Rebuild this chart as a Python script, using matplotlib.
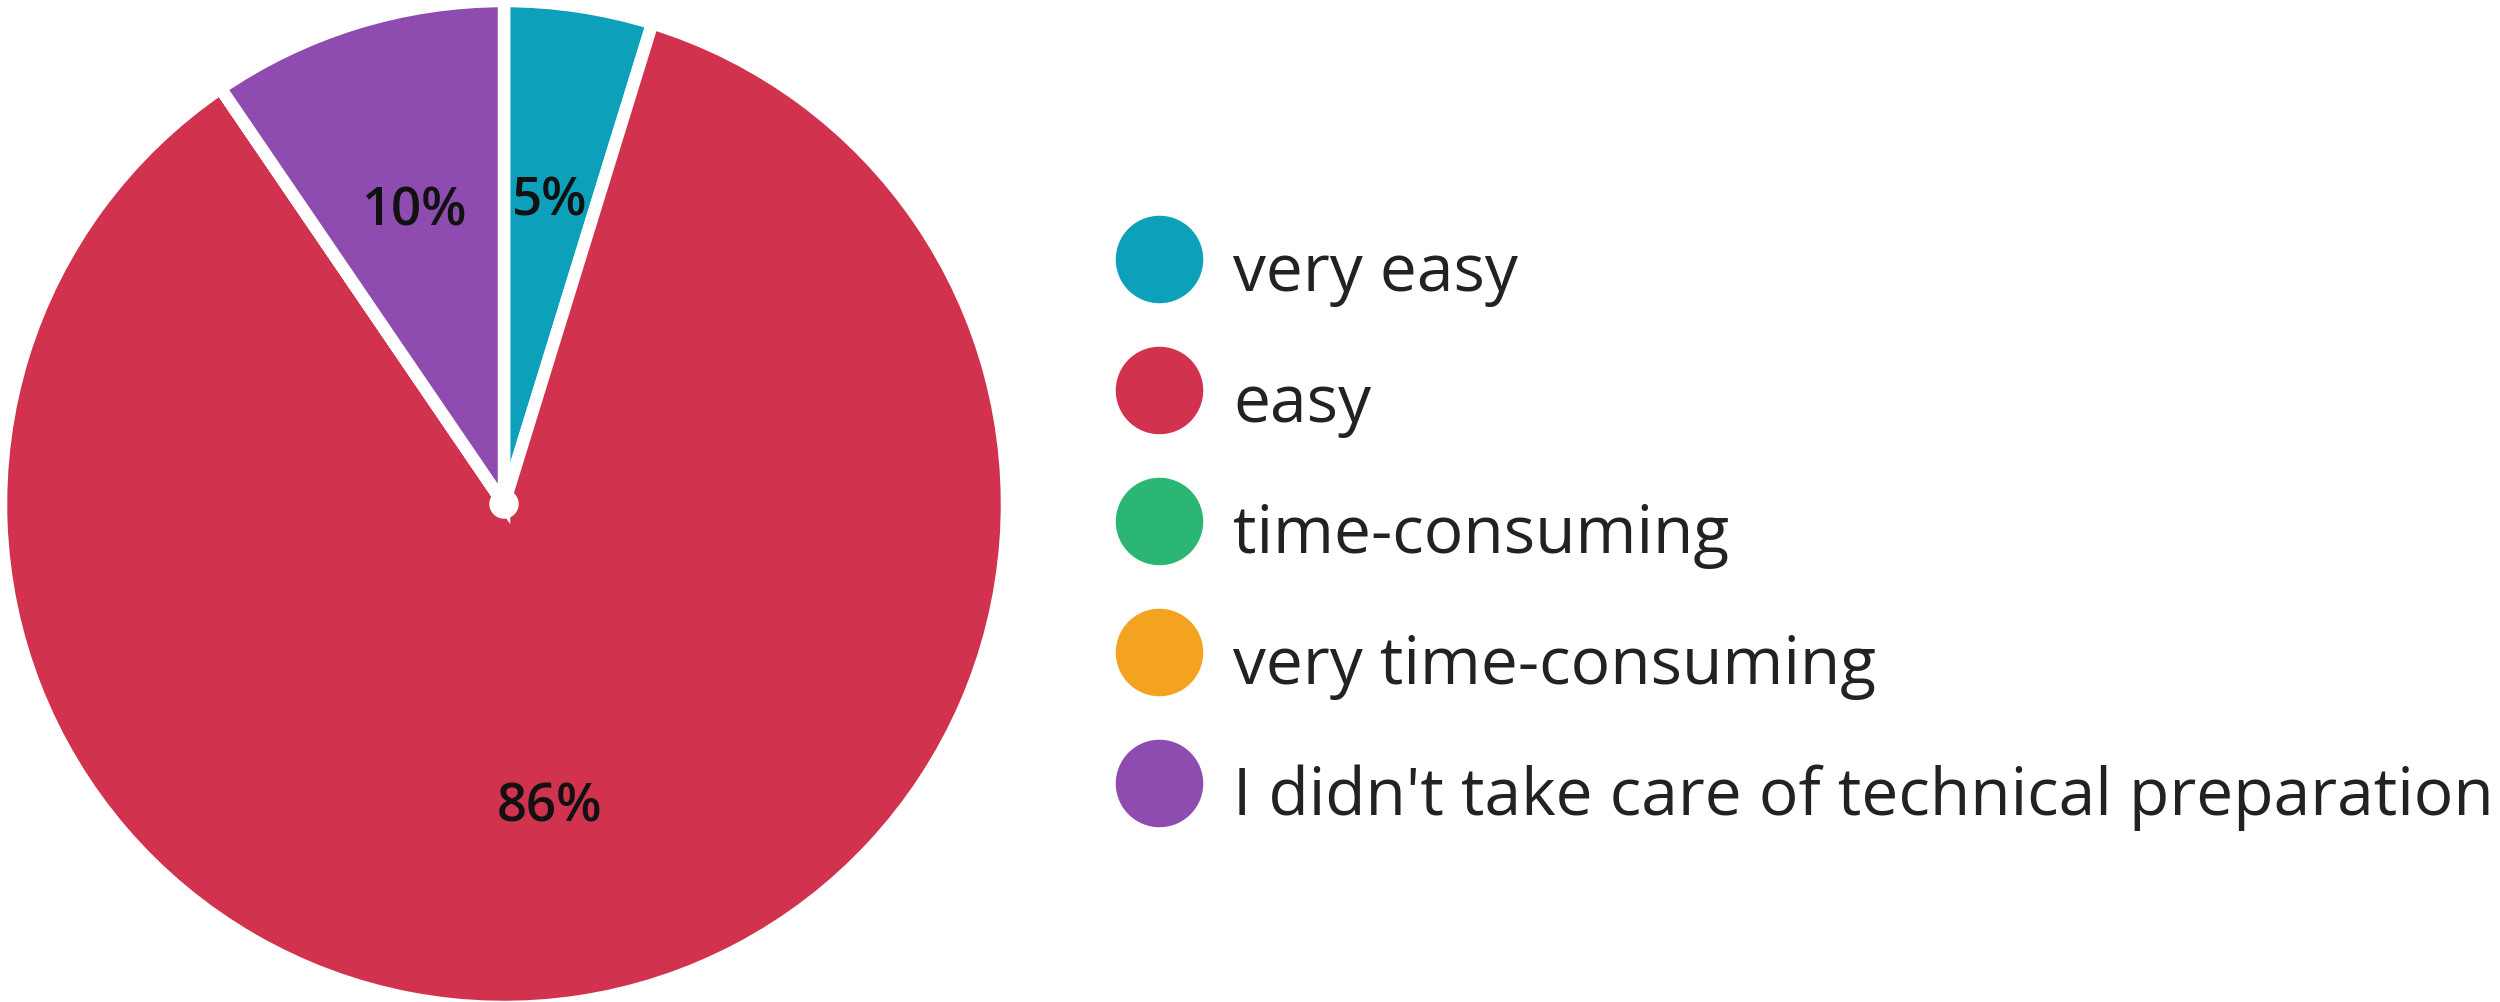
"""Pie chart: how easy was the technical preparation (survey answers)."""

import matplotlib.pyplot as plt
from matplotlib.lines import Line2D
from matplotlib.patches import Circle

plt.rcParams["font.family"] = ["Open Sans", "DejaVu Sans"]

CATEGORIES = [
    "very easy",
    "easy",
    "time-consuming",
    "very time-consuming",
    "I didn't take care of technical preparation",
]
COUNTS = [2, 36, 0, 0, 4]
COLORS = ["#0ca0ba", "#d1324d", "#2bb673", "#f4a321", "#8e4bb0"]

W, H = 2500, 1003
CENTER = (504, H - 505)
RADIUS = 503


def pct_label(p):
    return f"{p:.0f}%" if p > 0.5 else ""


def main():
    fig = plt.figure(figsize=(W / 100, H / 100), dpi=100)
    ax = fig.add_axes([0, 0, 1, 1])

    wedges, _, autotexts = ax.pie(
        COUNTS,
        colors=COLORS,
        startangle=90,
        counterclock=False,
        center=CENTER,
        radius=RADIUS,
        autopct=pct_label,
        pctdistance=0.61,
        wedgeprops=dict(edgecolor="white", linewidth=9),
        textprops=dict(fontsize=38, fontweight="semibold", color="#111111"),
    )
    ax.add_patch(Circle(CENTER, 14, color="white", zorder=5))

    ax.set_xlim(0, W)
    ax.set_ylim(0, H)
    ax.set_aspect("equal")
    ax.axis("off")

    handles = [
        Line2D([], [], linestyle="none", marker="o", markersize=63,
               markerfacecolor=c, markeredgewidth=0)
        for c in COLORS
    ]
    fig.legend(
        handles, CATEGORIES,
        loc="center left", bbox_to_anchor=(0.445, 0.4705),
        frameon=False, fontsize=47.4, labelcolor="#222222",
        handlelength=1.42, handleheight=1.5, handletextpad=0.41,
        labelspacing=0.77, borderpad=0, borderaxespad=0,
    )

    fig.savefig("out.png", dpi=100)


if __name__ == "__main__":
    main()
